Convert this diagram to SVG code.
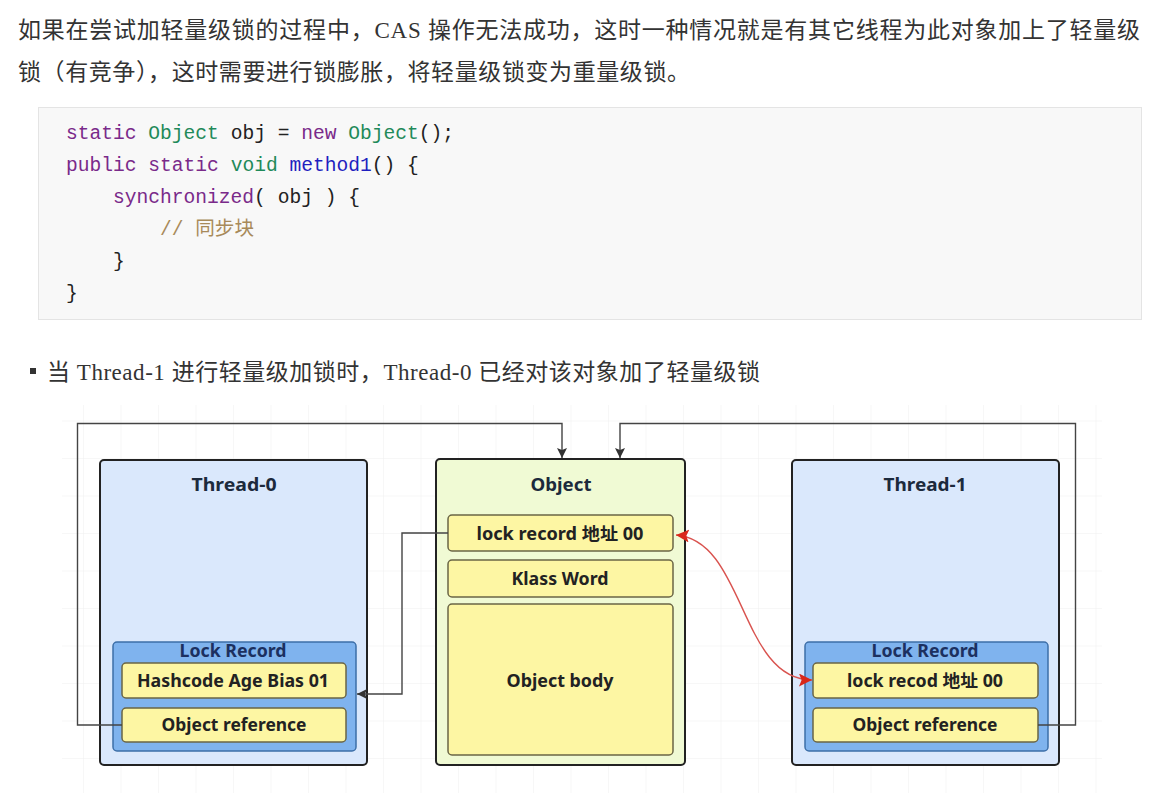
<svg xmlns="http://www.w3.org/2000/svg" width="1158" height="793" viewBox="0 0 1158 793">
<defs>
<style>
.para{font-family:"Liberation Serif","Noto Sans CJK SC",serif;font-size:23px;fill:#333}
.code{font-family:"Liberation Mono","Noto Sans CJK SC",monospace;font-size:19.6px;fill:#222}
.kw{fill:#7a2a8a}.ty{fill:#1f8a5a}.fn{fill:#1f1fbf}.cm{fill:#a88a5a}
.lbl{font-family:"Noto Sans","Noto Sans CJK SC",sans-serif;font-weight:bold;font-size:17.5px;fill:#222;text-anchor:middle}
.title{fill:#1c2a3c;font-size:18.5px}
.lr{fill:#1c3060}
.thread{fill:#dae8fc;stroke:#222;stroke-width:2}
.obj{fill:#f0fad4;stroke:#222;stroke-width:2}
.lock{fill:#7fb3ee;stroke:#3d6fa8;stroke-width:1.5}
.row{fill:#fdf6a3;stroke:#6a6545;stroke-width:1.5}
.conn{fill:none;stroke:#444;stroke-width:1.4}
.red{fill:none;stroke:#d9534f;stroke-width:1.4}
</style>
<marker id="ah" viewBox="0 0 10 10" refX="10" refY="5" markerWidth="10" markerHeight="10" markerUnits="userSpaceOnUse" orient="auto">
<path d="M0,0 L10,5 L0,10 L2,5 z" fill="#333"/>
</marker>
<marker id="ahr" viewBox="0 0 10 10" refX="10" refY="5" markerWidth="13" markerHeight="13" markerUnits="userSpaceOnUse" orient="auto-start-reverse">
<path d="M0,0 L10,5 L0,10 L2,5 z" fill="#d9281a"/>
</marker>
<pattern id="grid" width="37.5" height="37.5" patternUnits="userSpaceOnUse" x="9" y="9">
<path d="M37.5 0 V37.5 M0 37.5 H37.5" fill="none" stroke="#efefef" stroke-width="1"/>
</pattern>
</defs>
<rect width="1158" height="793" fill="#fff"/>

<text class="para" x="18" y="38" textLength="1122" lengthAdjust="spacing">如果在尝试加轻量级锁的过程中，CAS 操作无法成功，这时一种情况就是有其它线程为此对象加上了轻量级</text>
<text class="para" x="18" y="80" textLength="672" lengthAdjust="spacing">锁（有竞争），这时需要进行锁膨胀，将轻量级锁变为重量级锁。</text>

<g id="code">
<rect x="38.5" y="107.5" width="1103" height="212" fill="#f8f8f8" stroke="#e4e4e4"/>
<text class="code" x="66" y="139"><tspan class="kw">static</tspan> <tspan class="ty">Object</tspan> obj = <tspan class="kw">new</tspan> <tspan class="ty">Object</tspan>();</text>
<text class="code" x="66" y="171"><tspan class="kw">public</tspan> <tspan class="kw">static</tspan> <tspan class="ty">void</tspan> <tspan class="fn">method1</tspan>() {</text>
<text class="code" x="113" y="203"><tspan class="kw">synchronized</tspan>( obj ) {</text>
<text class="code" x="160" y="235"><tspan class="cm">// 同步块</tspan></text>
<text class="code" x="113" y="267">}</text>
<text class="code" x="66" y="299">}</text>
</g>

<rect x="30" y="368" width="6" height="6" fill="#333"/>
<text class="para" x="47" y="380" textLength="713" lengthAdjust="spacing">当 Thread-1 进行轻量级加锁时，Thread-0 已经对该对象加了轻量级锁</text>

<rect x="62" y="405" width="1040" height="388" fill="url(#grid)"/>

<g id="thread0">
<rect class="thread" x="100" y="460" width="267" height="305" rx="4"/>
<text class="lbl title" x="234" y="491" textLength="85" lengthAdjust="spacingAndGlyphs">Thread-0</text>
</g>
<g id="lockrecord0">
<rect class="lock" x="113" y="642" width="243" height="109" rx="4"/>
<text class="lbl lr" x="233" y="657" textLength="107" lengthAdjust="spacingAndGlyphs">Lock Record</text>
</g>
<g id="hashcode0">
<rect class="row" x="122" y="663" width="224" height="35" rx="4"/>
<text class="lbl" x="233" y="687" textLength="192" lengthAdjust="spacingAndGlyphs">Hashcode Age Bias 01</text>
</g>
<g id="objref0">
<rect class="row" x="122" y="708" width="224" height="34" rx="4"/>
<text class="lbl" x="234" y="731" textLength="145" lengthAdjust="spacingAndGlyphs">Object reference</text>
</g>

<g id="object">
<rect class="obj" x="436" y="459" width="249" height="306" rx="4"/>
<text class="lbl title" x="561" y="491" textLength="61" lengthAdjust="spacingAndGlyphs">Object</text>
</g>
<g id="markword">
<rect class="row" x="448" y="515" width="225" height="36" rx="4"/>
<text class="lbl" x="560" y="540" textLength="167" lengthAdjust="spacingAndGlyphs">lock  record 地址 00</text>
</g>
<g id="klassword">
<rect class="row" x="448" y="560" width="225" height="37" rx="4"/>
<text class="lbl" x="560" y="585" textLength="97" lengthAdjust="spacingAndGlyphs">Klass Word</text>
</g>
<g id="objectbody">
<rect class="row" x="448" y="604" width="225" height="151" rx="4"/>
<text class="lbl" x="560" y="687" textLength="107" lengthAdjust="spacingAndGlyphs">Object body</text>
</g>

<g id="thread1">
<rect class="thread" x="792" y="460" width="267" height="305" rx="4"/>
<text class="lbl title" x="925" y="491" textLength="83" lengthAdjust="spacingAndGlyphs">Thread-1</text>
</g>
<g id="lockrecord1">
<rect class="lock" x="805" y="642" width="243" height="109" rx="4"/>
<text class="lbl lr" x="925" y="657" textLength="107" lengthAdjust="spacingAndGlyphs">Lock Record</text>
</g>
<g id="lockrecod1">
<rect class="row" x="813" y="663" width="225" height="35" rx="4"/>
<text class="lbl" x="925" y="687" textLength="156" lengthAdjust="spacingAndGlyphs">lock recod 地址 00</text>
</g>
<g id="objref1">
<rect class="row" x="813" y="708" width="225" height="34" rx="4"/>
<text class="lbl" x="925" y="731" textLength="145" lengthAdjust="spacingAndGlyphs">Object reference</text>
</g>

<g id="connectors">
<path class="conn" d="M122 725 H77.5 V423.5 H562 V458" marker-end="url(#ah)"/>
<path class="conn" d="M1038 725 H1075.5 V423.5 H620 V458" marker-end="url(#ah)"/>
<path class="conn" d="M448 533 H402 V694 H357" marker-end="url(#ah)"/>
<path class="red" d="M676 535 C745 540, 740 680, 812 680" marker-start="url(#ahr)" marker-end="url(#ahr)"/>
</g>
</svg>
